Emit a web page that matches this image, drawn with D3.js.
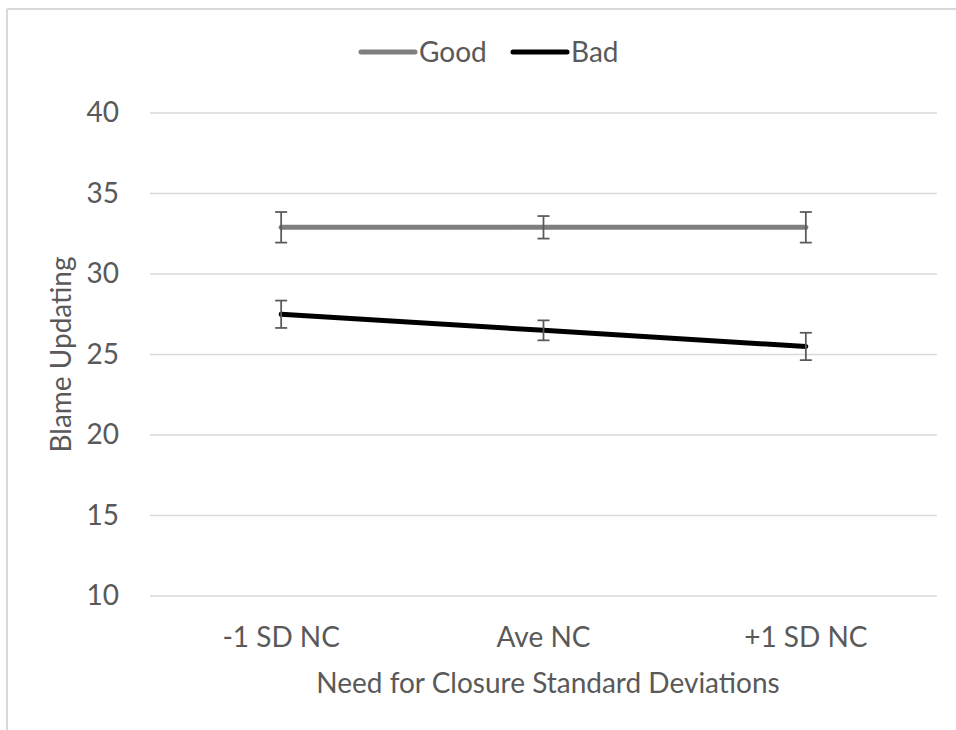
<!DOCTYPE html>
<html>
<head>
<meta charset="utf-8">
<script src="https://cdn.jsdelivr.net/npm/d3@7"></script>
<style>
  html, body { margin: 0; padding: 0; background: #fff; }
  svg { display: block; }
  text { font-family: Lato, "Open Sans", sans-serif; fill: #595959; }
</style>
</head>
<body>
<svg id="chart" width="956" height="730"></svg>
<script>
const categories = ["-1 SD NC", "Ave NC", "+1 SD NC"];
const seriesNames = ["Good", "Bad"];
const goodValues = [32.9, 32.9, 32.9];
const goodErrors = [0.95, 0.7, 0.95];
const badValues = [27.5, 26.5, 25.5];
const badErrors = [0.85, 0.62, 0.85];
const yTicks = [10, 15, 20, 25, 30, 35, 40];
const xTitle = "Need for Closure Standard Deviations";
const yTitle = "Blame Updating";

const series = [
  { name: seriesNames[0], values: goodValues, errors: goodErrors, color: "#7f7f7f" },
  { name: seriesNames[1], values: badValues, errors: badErrors, color: "#000000" }
];

const FS = "28px";
const svg = d3.select("#chart");
const W = 956, H = 730;
const plot = { left: 150, right: 937, top: 113, bottom: 596 };

// outer chart border (top and left visible)
svg.append("line").attr("x1", 7).attr("x2", W).attr("y1", 9).attr("y2", 9)
  .attr("stroke", "#d9d9d9").attr("stroke-width", 2);
svg.append("line").attr("x1", 7).attr("x2", 7).attr("y1", 9).attr("y2", H)
  .attr("stroke", "#d9d9d9").attr("stroke-width", 2);

const x = d3.scaleBand().domain(categories).range([plot.left, plot.right]);
const y = d3.scaleLinear().domain([10, 40]).range([plot.bottom, plot.top]);

// gridlines
svg.append("g").selectAll("line").data(yTicks).join("line")
  .attr("x1", plot.left).attr("x2", plot.right)
  .attr("y1", d => y(d)).attr("y2", d => y(d))
  .attr("stroke", "#d9d9d9").attr("stroke-width", 1.5);

// y axis labels
const yAxis = svg.append("g").attr("transform", `translate(${plot.left},0)`)
  .call(d3.axisLeft(y).tickValues(yTicks).tickSize(0).tickPadding(31));
yAxis.select(".domain").remove();
yAxis.selectAll("text").style("font-size", FS).style("font-family", "Lato").attr("fill", "#595959");

// x axis labels
const xAxis = svg.append("g").attr("transform", `translate(0,${plot.bottom})`)
  .call(d3.axisBottom(x).tickSize(0));
xAxis.select(".domain").remove();
xAxis.selectAll("text").attr("y", 51).attr("dy", "0")
  .style("font-size", FS).style("font-family", "Lato").attr("fill", "#595959");

// axis titles
svg.append("text").attr("x", 548).attr("y", 693)
  .attr("text-anchor", "middle").style("font-size", FS).text(xTitle);
svg.append("text").attr("transform", `translate(71,${(plot.top + plot.bottom) / 2}) rotate(-90)`)
  .attr("text-anchor", "middle").style("font-size", FS).text(yTitle);

const cx = d => x(d) + x.bandwidth() / 2;
const line = d3.line().x((d, i) => cx(categories[i])).y(d => y(d));

series.forEach(s => {
  svg.append("path").datum(s.values).attr("d", line)
    .attr("fill", "none").attr("stroke", s.color).attr("stroke-width", 5)
    .attr("stroke-linecap", "round");
  const g = svg.append("g");
  s.values.forEach((v, i) => {
    const px = cx(categories[i]);
    const lo = y(v - s.errors[i]), hi = y(v + s.errors[i]);
    g.append("line").attr("x1", px).attr("x2", px).attr("y1", lo).attr("y2", hi)
      .attr("stroke", "#595959").attr("stroke-width", 1.75);
    [lo, hi].forEach(yy => g.append("line").attr("x1", px - 6).attr("x2", px + 6)
      .attr("y1", yy).attr("y2", yy).attr("stroke", "#595959").attr("stroke-width", 1.75));
  });
});

// legend
const legendItems = [
  { name: series[0].name, color: series[0].color, x: 361 },
  { name: series[1].name, color: series[1].color, x: 513 }
];
const lg = svg.append("g");
legendItems.forEach(it => {
  lg.append("line").attr("x1", it.x).attr("x2", it.x + 54).attr("y1", 52).attr("y2", 52)
    .attr("stroke", it.color).attr("stroke-width", 5).attr("stroke-linecap", "round");
  lg.append("text").attr("x", it.x + 58).attr("y", 62).style("font-size", FS).text(it.name);
});
</script>
</body>
</html>
